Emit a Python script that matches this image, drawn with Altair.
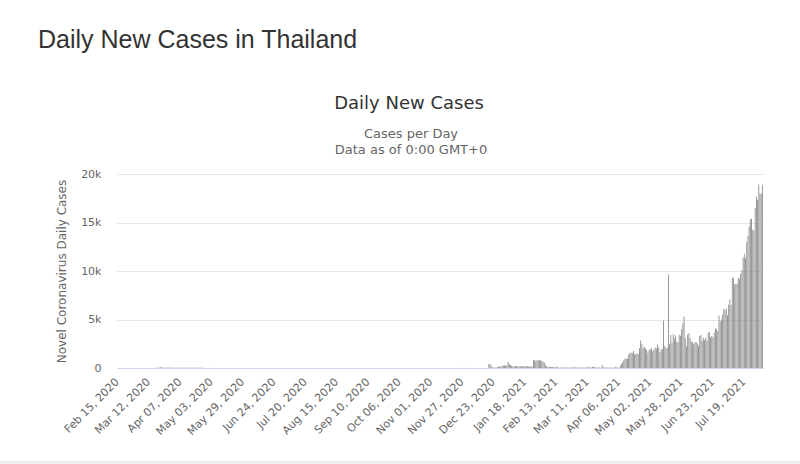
import altair as alt
import pandas as pd

# ---- Data (daily new cases) ----
page_title = "Daily New Cases in Thailand"
chart_title = "Daily New Cases"
chart_subtitle = "Cases per Day\nData as of 0:00 GMT+0"
y_title = "Novel Coronavirus Daily Cases"
start_date = "2020-02-15"

cases_2020_02 = [1, 0, 0, 0, 0, 0, 0, 0, 0, 2, 2, 0, 0, 0, 2]
cases_2020_03 = [1, 1, 1, 0, 4, 2, 7, 3, 3, 6, 5, 7, 5, 1, 12, 13, 10, 15, 25, 20,
                 39, 120, 42, 36, 37, 31, 41, 39, 43, 36, 37]
cases_2020_04 = [40, 34, 33, 29, 32, 21, 18, 41, 24, 20, 25, 23, 18, 24, 20,
                 19, 18, 23, 22, 17, 19, 15, 13, 15, 23, 15, 9, 7, 9, 7]
cases_2020_05 = [6, 6, 3, 18, 1, 3, 1, 5, 4, 5, 0, 1, 1, 2, 3, 0, 3, 0, 2, 0,
                 1, 2, 3, 3, 2, 4, 1, 8, 11, 2, 1]
cases_2020_06 = [1, 1, 1, 2, 0, 0, 1, 4, 0, 2, 2, 3, 0, 0, 3, 0, 0, 0, 4, 2,
                 0, 4, 0, 1, 0, 1, 7, 0, 0, 1]
cases_2020_07 = [0, 7, 3, 6, 3, 0, 5, 2, 0, 0, 1, 0, 2, 3, 1, 0, 1, 3, 0, 0,
                 2, 2, 3, 2, 3, 1, 3, 0, 1, 4, 0]
cases_2020_08 = [3, 1, 0, 0, 4, 3, 2, 2, 2, 6, 0, 1, 2, 2, 1, 0, 6, 0, 2, 0,
                 4, 0, 1, 0, 3, 0, 1, 2, 0, 4, 5]
cases_2020_09 = [0, 3, 2, 4, 0, 1, 1, 0, 2, 5, 2, 3, 0, 1, 2, 3, 0, 2, 3, 0,
                 2, 2, 7, 1, 4, 3, 8, 7, 2, 6]
cases_2020_10 = [0, 1, 5, 5, 3, 1, 1, 8, 4, 4, 6, 1, 10, 6, 5, 2, 4, 6, 5, 6,
                 6, 1, 1, 6, 2, 2, 3, 5, 3, 4, 7]
cases_2020_11 = [5, 3, 9, 2, 5, 0, 2, 5, 7, 1, 10, 4, 0, 6, 5, 3, 9, 4, 5, 9,
                 3, 11, 3, 3, 5, 8, 4, 14, 5, 4]
cases_2020_12 = [7, 3, 13, 6, 7, 3, 5, 4, 6, 6, 7, 6, 2, 10, 6, 4, 6, 0, 420, 380,
                 270, 45, 40, 55, 38, 110, 121, 144, 155, 194, 250]
cases_2021_01 = [279, 216, 315, 650, 420, 300, 200, 180, 176, 200, 187, 150, 157, 188, 190,
                 118, 180, 200, 171, 187, 150, 125, 198, 130, 800, 820, 690, 790, 800, 780, 800]
cases_2021_02 = [760, 650, 560, 300, 140, 130, 120, 130, 100, 110, 100, 90, 120, 50, 40,
                 30, 60, 40, 50, 60, 40, 70, 30, 50, 40, 60, 40, 80]
cases_2021_03 = [40, 50, 60, 40, 50, 60, 40, 30, 50, 60, 40, 100, 90, 40, 100, 120,
                 80, 50, 60, 40, 50, 30, 300, 80, 60, 40, 50, 30, 40, 60, 30]
cases_2021_04 = [26, 84, 89, 54, 39, 34, 250, 405, 559, 789, 967, 985, 965, 1335, 1543,
                 1582, 1547, 1767, 1390, 1443, 1458, 1470, 2070, 2839, 2438, 2048, 2179,
                 2012, 1871, 1583]
cases_2021_05 = [1891, 1940, 2041, 1763, 1911, 2112, 2044, 2419, 2101, 1630, 1919, 1983,
                 4887, 2256, 2052, 2101, 9635, 2438, 3394, 2598, 3481, 3052, 3383, 2713,
                 2662, 3440, 3323, 4000, 4600, 5300, 3100]
cases_2021_06 = [2230, 3440, 3600, 3100, 2700, 2671, 2419, 2662, 2680, 2515, 2290, 3290,
                 3400, 2804, 3129, 2900, 3129, 2800, 3667, 3682, 3174, 3307, 3174, 3644,
                 4108, 3995, 3813, 5406, 4786, 5000]
cases_2021_07 = [5533, 6087, 5916, 6166, 5435, 6519, 7058, 6519, 9276, 9326, 8656, 8685,
                 8685, 9317, 9186, 9692, 10082, 11397, 11784, 11305, 13002, 13655, 14575,
                 15335, 15376, 14260, 14150, 16533, 17669, 17345, 18912]
cases_2021_08 = [18027, 17970, 18901]

x_tick_labels = ["Feb 15, 2020", "Mar 12, 2020", "Apr 07, 2020", "May 03, 2020",
                 "May 29, 2020", "Jun 24, 2020", "Jul 20, 2020", "Aug 15, 2020",
                 "Sep 10, 2020", "Oct 06, 2020", "Nov 01, 2020", "Nov 27, 2020",
                 "Dec 23, 2020", "Jan 18, 2021", "Feb 13, 2021", "Mar 11, 2021",
                 "Apr 06, 2021", "May 02, 2021", "May 28, 2021", "Jun 23, 2021",
                 "Jul 19, 2021"]
y_ticks = [0, 5000, 10000, 15000, 20000]

values = (cases_2020_02 + cases_2020_03 + cases_2020_04 + cases_2020_05 + cases_2020_06
          + cases_2020_07 + cases_2020_08 + cases_2020_09 + cases_2020_10 + cases_2020_11
          + cases_2020_12 + cases_2021_01 + cases_2021_02 + cases_2021_03 + cases_2021_04
          + cases_2021_05 + cases_2021_06 + cases_2021_07 + cases_2021_08)
dates = pd.date_range(start_date, periods=len(values), freq="D")
df = pd.DataFrame({"date": dates.strftime("%b %d, %Y"), "cases": values})

FONT = "DejaVu Sans"

bars = alt.Chart(df).mark_bar(color="#888888").encode(
    x=alt.X("date:N", sort=None, title=None,
            scale=alt.Scale(paddingInner=0.3, paddingOuter=0.15),
            axis=alt.Axis(values=x_tick_labels, labelAngle=315, labelAlign="right",
                          labelBaseline="middle", labelPadding=12, ticks=False,
                          domainColor="#ccd6eb", domainWidth=1, grid=False,
                          labelFont=FONT, labelFontSize=11, labelColor="#666666",
                          labelOverlap=False)),
    y=alt.Y("cases:Q", scale=alt.Scale(domain=[0, 20000], nice=False),
            axis=alt.Axis(values=y_ticks,
                          labelExpr="datum.value === 0 ? '0' : (datum.value / 1000) + 'k'",
                          title=y_title,
                          domain=False, ticks=False, labelPadding=16,
                          labelFont=FONT, labelFontSize=11, labelColor="#666666",
                          gridColor="#e6e6e6", gridWidth=1,
                          titleFont=FONT, titleFontSize=12, titleFontWeight="normal",
                          titleColor="#666666", titleAngle=270, titleX=-52, titleY=97,
                          titleAlign="center", titleBaseline="alphabetic")),
    tooltip=["date:N", "cases:Q"],
)

header = alt.Chart(pd.DataFrame({"t": [page_title]})).mark_text(
    align="left", baseline="alphabetic", font="Liberation Sans", fontSize=25, color="#333333"
).encode(x=alt.value(-79), y=alt.value(-126.5), text="t:N")

title_text = alt.Chart(pd.DataFrame({"t": [chart_title]})).mark_text(
    align="center", baseline="alphabetic", font=FONT, fontSize=18, color="#333333"
).encode(x=alt.value(292), y=alt.value(-65), text="t:N")

subtitle_text = alt.Chart(pd.DataFrame({"t": [chart_subtitle]})).mark_text(
    align="center", baseline="alphabetic", font=FONT, fontSize=13, color="#666666",
    lineBreak="\n", lineHeight=16.5
).encode(x=alt.value(294), y=alt.value(-36.5), text="t:N")

strip = alt.Chart(pd.DataFrame({"k": [0]})).mark_rect(color="#eeeeee").encode(
    x=alt.value(-117), x2=alt.value(683), y=alt.value(287), y2=alt.value(290)
)

chart = alt.layer(bars, header, title_text, subtitle_text, strip).properties(
    width=646,
    height=194,
    background="white",
    autosize=alt.AutoSizeParams(type="none"),
    padding={"left": 117, "top": 174, "right": 37, "bottom": 96},
).configure_view(stroke=None, strokeWidth=0)

chart.save("out.html", embed_options={"renderer": "svg", "actions": False})
